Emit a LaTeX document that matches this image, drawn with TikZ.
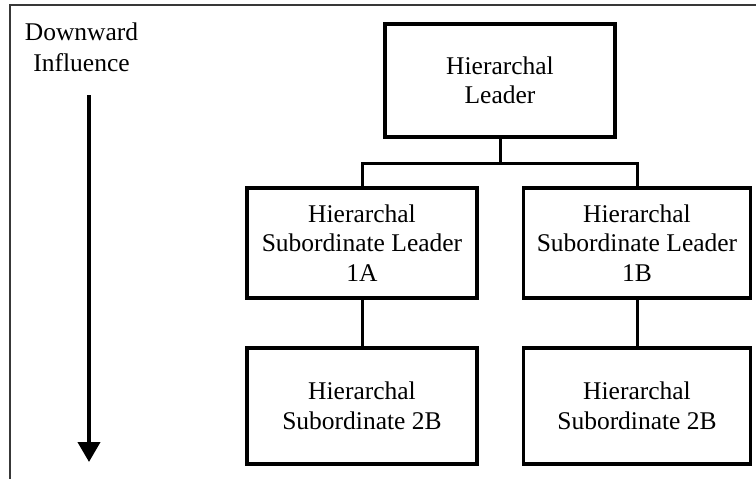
\documentclass[tikz,border=0pt]{standalone}
\usepackage{fontspec}
\setmainfont{Liberation Serif}
\usetikzlibrary{arrows.meta}
\begin{document}
\begin{tikzpicture}[x=1pt,y=-1pt,
  orgbox/.style={draw=black,line width=3.5pt,fill=white,align=center,
    inner sep=0pt,font=\fontsize{25.5}{29.5}\selectfont},
  link/.style={draw=black,line width=3pt},
  label/.style={align=center,font=\fontsize{25.5}{31}\selectfont}]
\useasboundingbox (0,0) rectangle (756,479);
% partial frame along the top and left edges
\draw[black!78,line width=2pt] (756,5) -- (10,5) -- (10,479);
% direction of influence
\node[label] (dir) at (81.5,47) {Downward\\Influence};
\coordinate (arrtop) at (89,95);
\coordinate (arrtip) at (89,462);
\draw[line width=4pt,-{Triangle[width=22pt,length=20pt]}] (arrtop) -- (arrtip);
% hierarchy boxes
\node[orgbox,minimum width=230pt,minimum height=113pt] (top) at (500,80.5) {Hierarchal\\Leader};
\node[orgbox,minimum width=230pt,minimum height=110pt] (m1) at (362,243) {Hierarchal\\Subordinate Leader\\1A};
\node[orgbox,minimum width=227pt,minimum height=110pt] (m2) at (637,243) {Hierarchal\\Subordinate Leader\\1B};
\node[orgbox,minimum width=230pt,minimum height=116pt] (b1) at (362,406) {Hierarchal\\Subordinate 2B};
\node[orgbox,minimum width=227pt,minimum height=116pt] (b2) at (637,406) {Hierarchal\\Subordinate 2B};
% connectors
\coordinate (j) at ([yshift=-25pt]top.south);
\draw[link] (top.south) -- (j);
\draw[link] (m1.north) |- (j) -| (m2.north);
\draw[link] (m1.south) -- (b1.north);
\draw[link] (m2.south) -- (b2.north);
\end{tikzpicture}
\end{document}
